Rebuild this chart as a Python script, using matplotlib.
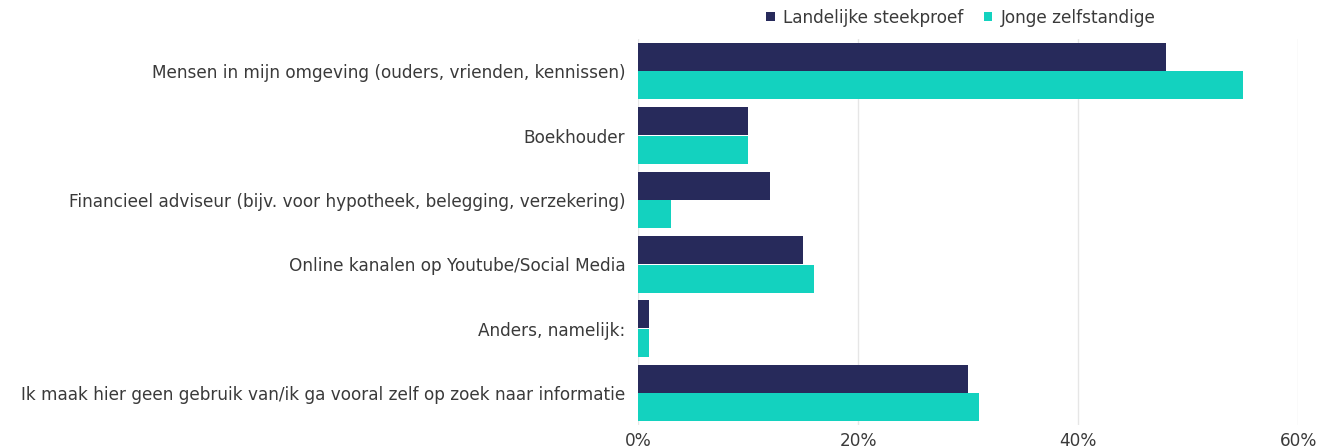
import numpy as np
import matplotlib.pyplot as plt
from matplotlib.ticker import FuncFormatter

categories = [
    "Mensen in mijn omgeving (ouders, vrienden, kennissen)",
    "Boekhouder",
    "Financieel adviseur (bijv. voor hypotheek, belegging, verzekering)",
    "Online kanalen op Youtube/Social Media",
    "Anders, namelijk:",
    "Ik maak hier geen gebruik van/ik ga vooral zelf op zoek naar informatie",
]
landelijk = [48, 10, 12, 15, 1, 30]
jonge = [55, 10, 3, 16, 1, 31]
series_names = ["Landelijke steekproef", "Jonge zelfstandige"]
colors = ["#272a5b", "#13d2bf"]

plt.rcParams['font.family'] = ['DejaVu Sans']

fig = plt.figure(figsize=(13.22, 4.48), dpi=100)
ax = fig.add_axes([0.4826, 0.051, 0.4993, 0.862])

y = np.arange(len(categories))
h = 0.435
ax.barh(y - h / 2 - 0.005, landelijk, height=h, color=colors[0], label=series_names[0], zorder=3)
ax.barh(y + h / 2 + 0.005, jonge, height=h, color=colors[1], label=series_names[1], zorder=3)

ax.set_xlim(0, 60)
ax.set_ylim(len(categories) - 0.5, -0.5)
ax.set_xticks([0, 20, 40, 60])
ax.xaxis.set_major_formatter(FuncFormatter(lambda v, p: f"{v:.0f}%"))
ax.set_yticks(y)
ax.set_yticklabels(categories)
ax.tick_params(axis='both', length=0, labelsize=12.2, colors="#3a3a3a")
ax.tick_params(axis='y', pad=9)
ax.tick_params(axis='x', pad=5)
ax.grid(axis='x', color="#e6e6e6", linewidth=1, zorder=0)
for s in ax.spines.values():
    s.set_visible(False)

leg = fig.legend(loc='upper center', bbox_to_anchor=(0.727, 1.015), ncol=2, frameon=False,
                 fontsize=12.2, handlelength=0.5, handleheight=0.5, handletextpad=0.5,
                 columnspacing=1.2)
for t in leg.get_texts():
    t.set_color("#3a3a3a")

fig.savefig("out.png", dpi=100)
